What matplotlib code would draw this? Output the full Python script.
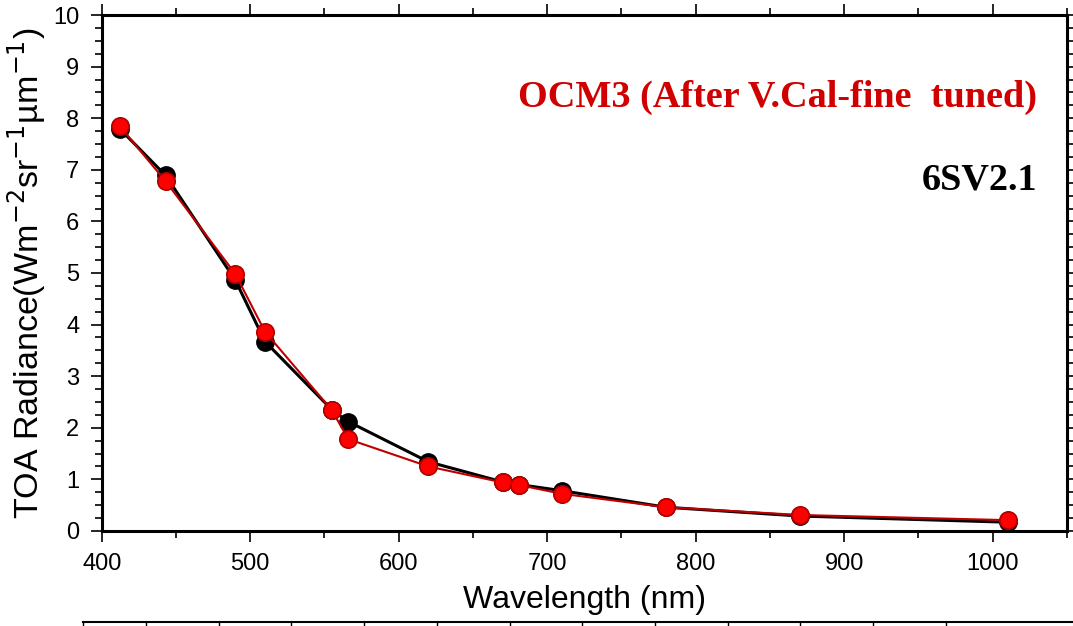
import numpy as np
import matplotlib.pyplot as plt
from matplotlib.lines import Line2D
from matplotlib.ticker import MultipleLocator

# band centre wavelengths (nm)
wavelength = [412, 443, 490, 510, 555, 566, 620, 670, 681, 710, 780, 870, 1010]
# simulated TOA radiance, 6SV2.1
rad_6sv = [7.80, 6.89, 4.86, 3.67, 2.35, 2.12, 1.34, 0.95, 0.90, 0.78, 0.46, 0.29, 0.17]
# OCM3 after vicarious calibration
rad_ocm3 = [7.85, 6.78, 4.98, 3.86, 2.34, 1.78, 1.25, 0.94, 0.89, 0.72, 0.46, 0.31, 0.21]

fig = plt.figure(figsize=(10.73, 6.26), dpi=100)
ax = fig.add_axes([0.0948, 0.1518, 0.8996, 0.8242])

ax.plot(wavelength, rad_6sv, '-o', color='black', lw=2.2, ms=12.5,
        mfc='black', mec='black', zorder=3)
ax.plot(wavelength, rad_ocm3, '-o', color='#c00000', lw=1.5, ms=12.5,
        mfc='#ff0000', mec='#b00000', mew=1.2, zorder=4)

ax.set_xlim(400, 1050)
ax.set_ylim(0, 10)
ax.xaxis.set_major_locator(MultipleLocator(100))
ax.xaxis.set_minor_locator(MultipleLocator(50))
ax.yaxis.set_major_locator(MultipleLocator(1))
ax.yaxis.set_minor_locator(MultipleLocator(0.25))
ax.set_xticks([400, 500, 600, 700, 800, 900, 1000])

for s in ax.spines.values():
    s.set_linewidth(2.2)

ax.tick_params(which='both', direction='out', top=True, right=True,
               labeltop=False, labelright=False, width=1.2, labelsize=17)
ax.tick_params(which='major', length=8, pad=8)
ax.tick_params(which='minor', length=5)

plt.rcParams['mathtext.fontset'] = 'custom'
plt.rcParams['mathtext.rm'] = 'Liberation Sans'
ax.set_xlabel('Wavelength (nm)', family='Liberation Sans', fontsize=23, labelpad=7)
ax.set_ylabel('TOA Radiance(Wm$^{-2}$sr$^{-1}$µm$^{-1}$)', family='Liberation Sans',
              fontsize=24.5, labelpad=4)
for t in ax.get_xticklabels() + ax.get_yticklabels():
    t.set_family('Liberation Sans')

ax.text(0.969, 0.841, 'OCM3 (After V.Cal-fine  tuned)', transform=ax.transAxes,
        ha='right', va='center', color='#d00000', fontsize=27.5,
        fontweight='bold', family='Liberation Serif')
ax.text(0.969, 0.68, '6SV2.1', transform=ax.transAxes,
        ha='right', va='center', color='black', fontsize=27.5,
        fontweight='bold', family='Liberation Serif')

# cropped table border under the figure
W, H = 1073, 626
fig.add_artist(Line2D([83 / W, 1], [1 - 622 / H, 1 - 622 / H], color='black', lw=1.5,
                      transform=fig.transFigure))
for xp in [83] + list(np.arange(146, 1000, 72.7)):
    fig.add_artist(Line2D([xp / W, xp / W], [0, 1 - 622 / H], color='black', lw=1,
                          transform=fig.transFigure))

fig.savefig('out.png', dpi=100, facecolor='white')
